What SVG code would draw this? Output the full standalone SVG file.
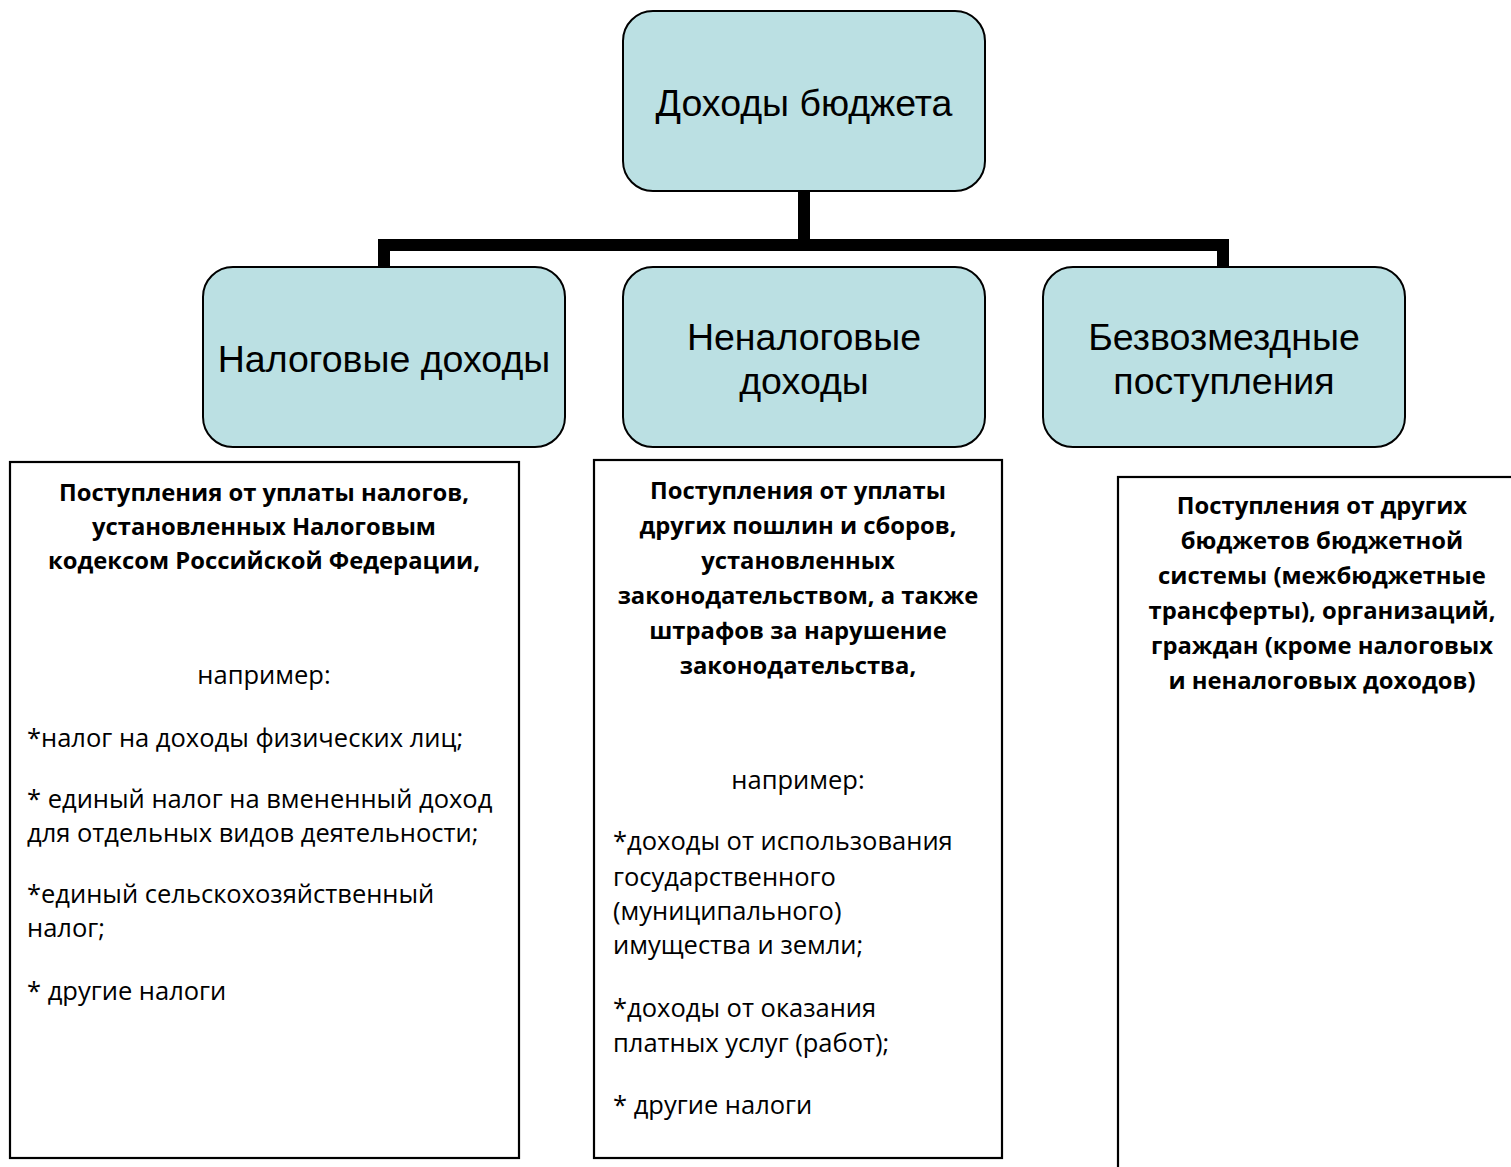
<svg xmlns="http://www.w3.org/2000/svg" width="1511" height="1167" viewBox="0 0 1511 1167">
<style>
.node{fill:#BBE0E3;stroke:#000;stroke-width:2}
.box{fill:#fff;stroke:#000;stroke-width:2.2}
.ht{font-family:"Liberation Sans",Arial,sans-serif;font-size:37.5px;fill:#000;text-anchor:middle}
.b{font-family:"Open Sans","Noto Sans",sans-serif;font-size:23.8px;font-weight:bold;fill:#000;text-anchor:middle}
.r{font-family:"Open Sans","Noto Sans",sans-serif;font-size:25.5px;fill:#000}
.c{text-anchor:middle}
.conn{fill:none;stroke:#000;stroke-width:12;stroke-linejoin:miter;stroke-linecap:butt}
</style>
<rect width="1511" height="1167" fill="#fff"/>
<g id="connectors">
<path class="conn" d="M804 191 V245 M384 267 V245 H1223 V267"/>
</g>
<g id="node-root">
<rect class="node" x="623" y="11" width="362" height="180" rx="30"/>
<text class="ht" x="804" y="116">Доходы бюджета</text>
</g>
<g id="node-tax">
<rect class="node" x="203" y="267" width="362" height="180" rx="30"/>
<text class="ht" x="384" y="372">Налоговые доходы</text>
</g>
<g id="node-nontax">
<rect class="node" x="623" y="267" width="362" height="180" rx="30"/>
<text class="ht" x="804" y="350">Неналоговые</text>
<text class="ht" x="804" y="394">доходы</text>
</g>
<g id="node-free">
<rect class="node" x="1043" y="267" width="362" height="180" rx="30"/>
<text class="ht" x="1224" y="350">Безвозмездные</text>
<text class="ht" x="1224" y="394">поступления</text>
</g>
<g id="box-tax">
<rect class="box" x="10" y="462" width="509" height="696"/>
<text class="b" x="264" y="501">Поступления от уплаты налогов,</text>
<text class="b" x="264" y="535">установленных Налоговым</text>
<text class="b" x="264" y="569">кодексом Российской Федерации,</text>
<text class="r c" x="264" y="684">например:</text>
<text class="r" x="27" y="747">*налог на доходы физических лиц;</text>
<text class="r" x="27" y="808">* единый налог на вмененный доход</text>
<text class="r" x="27" y="842">для отдельных видов деятельности;</text>
<text class="r" x="27" y="903">*единый сельскохозяйственный</text>
<text class="r" x="27" y="937">налог;</text>
<text class="r" x="27" y="1000">* другие налоги</text>
</g>
<g id="box-nontax">
<rect class="box" x="594" y="460" width="408" height="698"/>
<text class="b" x="798" y="499">Поступления от уплаты</text>
<text class="b" x="798" y="534">других пошлин и сборов,</text>
<text class="b" x="798" y="569">установленных</text>
<text class="b" x="798" y="604">законодательством, а также</text>
<text class="b" x="798" y="639">штрафов за нарушение</text>
<text class="b" x="798" y="674">законодательства,</text>
<text class="r c" x="798" y="789">например:</text>
<text class="r" x="613" y="850">*доходы от использования</text>
<text class="r" x="613" y="886">государственного</text>
<text class="r" x="613" y="920">(муниципального)</text>
<text class="r" x="613" y="954">имущества и земли;</text>
<text class="r" x="613" y="1017">*доходы от оказания</text>
<text class="r" x="613" y="1052">платных услуг (работ);</text>
<text class="r" x="613" y="1114">* другие налоги</text>
</g>
<g id="box-free">
<rect class="box" x="1118" y="477" width="410" height="720"/>
<text class="b" x="1322" y="514">Поступления от других</text>
<text class="b" x="1322" y="549">бюджетов бюджетной</text>
<text class="b" x="1322" y="584">системы (межбюджетные</text>
<text class="b" x="1322" y="619">трансферты), организаций,</text>
<text class="b" x="1322" y="654">граждан (кроме налоговых</text>
<text class="b" x="1322" y="689">и неналоговых доходов)</text>
</g>
</svg>
